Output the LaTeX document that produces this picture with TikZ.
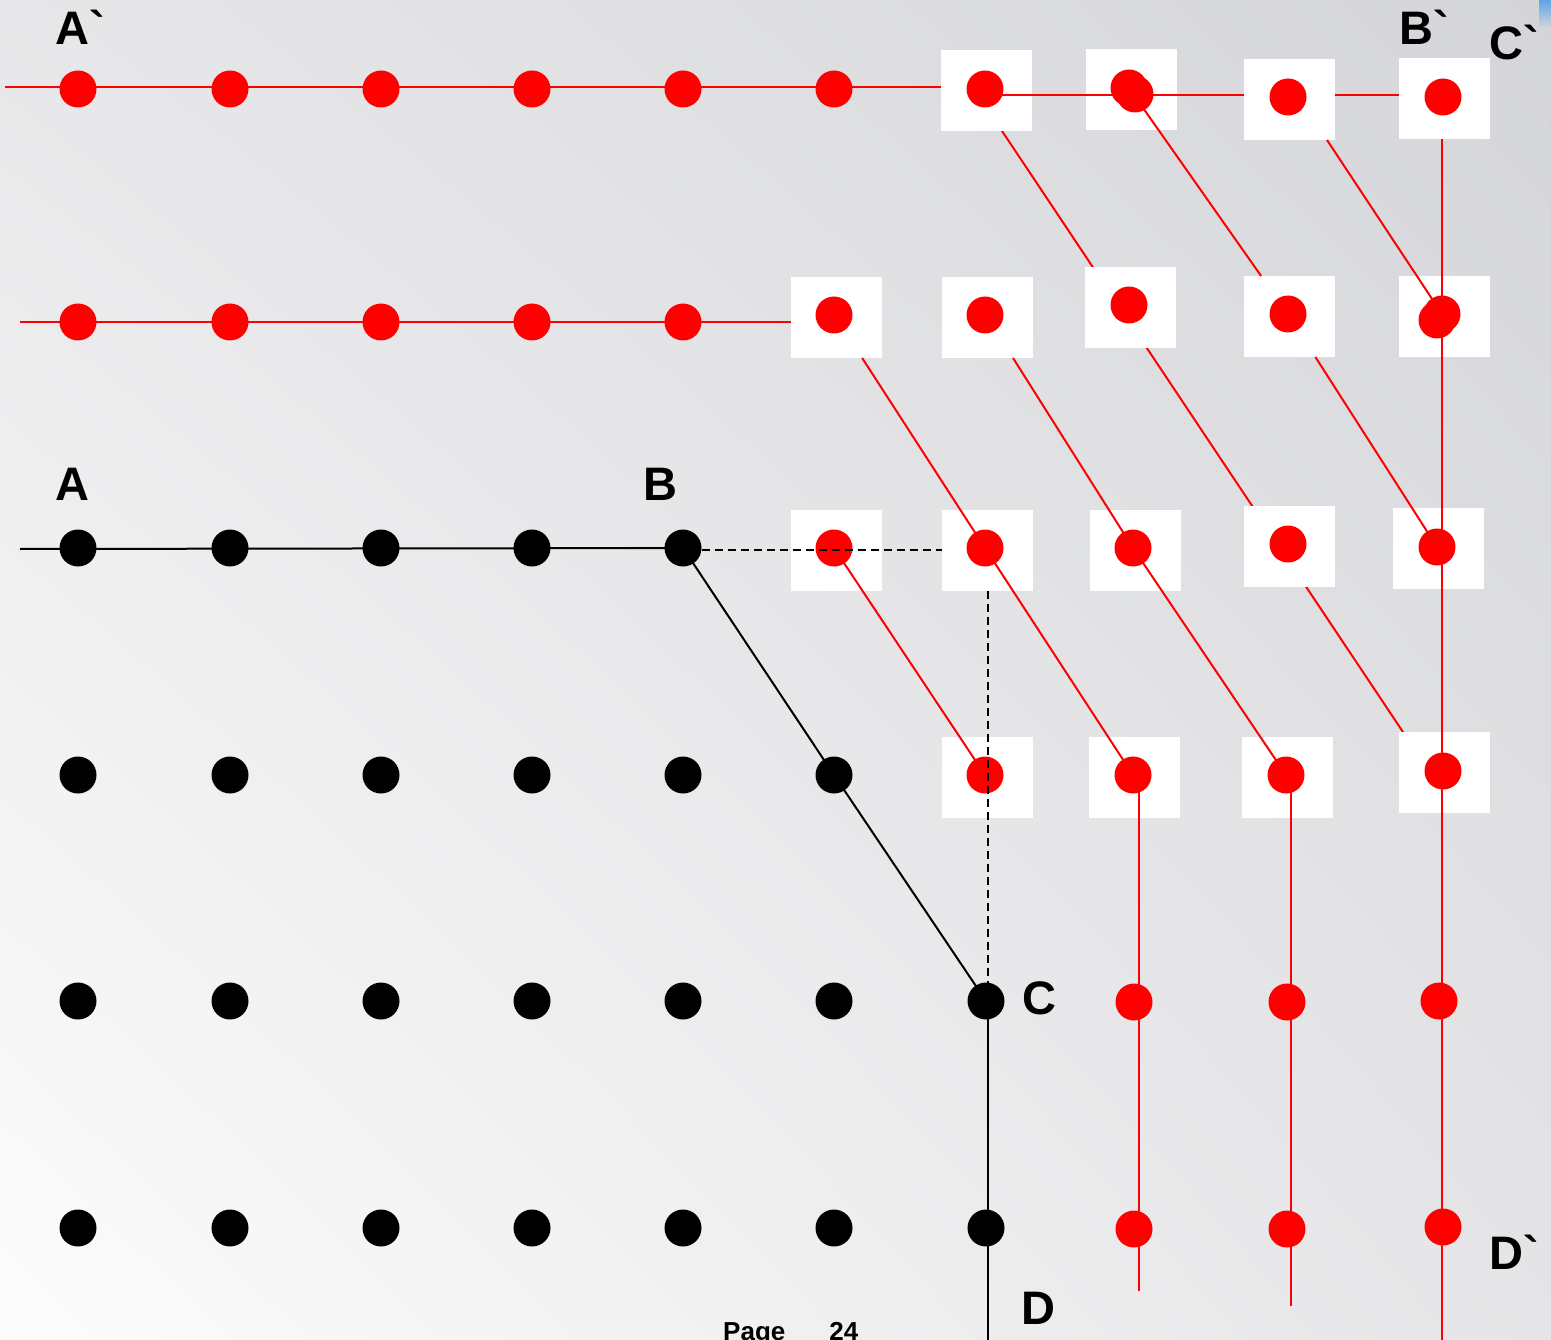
\documentclass[tikz,border=0pt]{standalone}
\usepackage{fontspec}
\usetikzlibrary{shadings}
\setmainfont{Liberation Sans}
\newfontfamily\lblfont{Liberation Sans}[Ligatures=TeXOff]
\pgfdeclarelayer{back}
\pgfdeclarelayer{hidden}
\pgfdeclarelayer{boxes}
\pgfdeclarelayer{dots}
\pgfdeclarelayer{top}
\pgfsetlayers{back,hidden,boxes,main,dots,top}
\definecolor{dred}{RGB}{255,0,0}
\definecolor{bgTL}{RGB}{231,231,233}
\definecolor{bgTR}{RGB}{212,213,217}
\definecolor{bgBL}{RGB}{252,252,252}
\definecolor{bgBR}{RGB}{229,229,231}
\definecolor{artblue}{RGB}{95,165,230}
\tikzset{
  rdot/.style={circle, fill=dred, minimum size=37pt, inner sep=0pt, outer sep=0pt},
  bdot/.style={circle, fill=black, minimum size=37pt, inner sep=0pt, outer sep=0pt},
  wbox/.style={rectangle, fill=white, minimum width=91pt, minimum height=81pt, inner sep=0pt, outer sep=0pt},
  rline/.style={draw=dred, line width=2pt},
  bline/.style={draw=black, line width=2pt},
  dline/.style={draw=black, line width=2pt, dash pattern=on 8pt off 5pt},
  lbl/.style={font={\lblfont\bfseries\fontsize{47}{47}\selectfont}, inner sep=0pt, anchor=base west},
  pagelbl/.style={font={\lblfont\bfseries\fontsize{26}{26}\selectfont}, inner sep=0pt, anchor=base west},
}
\begin{document}
\begin{tikzpicture}[x=1pt,y=-1pt]
\useasboundingbox (0,0) rectangle (1551,1340);

% background
\begin{pgfonlayer}{back}
\shade[upper left=bgTL, upper right=bgTR, lower left=bgBL, lower right=bgBR] (0,0) rectangle (1551,1340);
\shade[top color=artblue, bottom color=bgTR] (1539,0) rectangle (1551,28);
\end{pgfonlayer}

% white boxes
\begin{pgfonlayer}{boxes}
\node[wbox] (b06) at (986.5,90.5) {};
\node[wbox] (b07) at (1131.5,89.5) {};
\node[wbox] (b08) at (1289.5,99.5) {};
\node[wbox] (b09) at (1444.5,99) {};
\node[wbox] (b15) at (836,317.5) {};
\node[wbox] (b16) at (987.5,317.5) {};
\node[wbox] (b17) at (1130.5,307.5) {};
\node[wbox] (b18) at (1289.5,316.5) {};
\node[wbox] (b19) at (1444.5,316.5) {};
\node[wbox] (b25) at (836,550) {};
\node[wbox] (b26) at (987.5,550) {};
\node[wbox] (b27) at (1135,550) {};
\node[wbox] (b28) at (1289.5,546.5) {};
\node[wbox] (b29) at (1438.5,548.5) {};
\node[wbox] (b36) at (987.5,777.5) {};
\node[wbox] (b37) at (1134.5,777.5) {};
\node[wbox] (b38) at (1287.5,777.5) {};
\node[wbox] (b39) at (1444.5,772.5) {};
\end{pgfonlayer}

% dots
\begin{pgfonlayer}{dots}
\foreach \i/\x in {0/78,1/230,2/381,3/532,4/683,5/834}
  \node[rdot] (r0\i) at (\x,89) {};
\node[rdot] (r06) at (985,89) {};
\node[rdot] (r07) at (1129,88) {};
\node[rdot] (r07b) at (1135,94) {};
\node[rdot] (r08) at (1288,97) {};
\node[rdot] (r09) at (1443,97) {};
\foreach \i/\x in {0/78,1/230,2/381,3/532,4/683}
  \node[rdot] (r1\i) at (\x,322) {};
\node[rdot] (r15) at (834,315) {};
\node[rdot] (r16) at (985,315) {};
\node[rdot] (r17) at (1129,305) {};
\node[rdot] (r18) at (1288,314) {};
\node[rdot] (r19) at (1442,314) {};
\node[rdot] (r19b) at (1437,320) {};
\foreach \i/\x in {0/78,1/230,2/381,3/532,4/683}
  \node[bdot] (k2\i) at (\x,548) {};
\node[rdot] (r25) at (834,548) {};
\node[rdot] (r26) at (985,548) {};
\node[rdot] (r27) at (1133,548) {};
\node[rdot] (r28) at (1288,544) {};
\node[rdot] (r29) at (1437,547) {};
\foreach \i/\x in {0/78,1/230,2/381,3/532,4/683,5/834}
  \node[bdot] (k3\i) at (\x,775) {};
\node[rdot] (r36) at (985,775) {};
\node[rdot] (r37) at (1133,775) {};
\node[rdot] (r38) at (1286,775) {};
\node[rdot] (r39) at (1443,771) {};
\foreach \i/\x in {0/78,1/230,2/381,3/532,4/683,5/834,6/986}
  \node[bdot] (k4\i) at (\x,1001) {};
\node[rdot] (r47) at (1134,1002) {};
\node[rdot] (r48) at (1287,1002) {};
\node[rdot] (r49) at (1439,1001) {};
\foreach \i/\x in {0/78,1/230,2/381,3/532,4/683,5/834,6/986}
  \node[bdot] (k5\i) at (\x,1228) {};
\node[rdot] (r57) at (1134,1229) {};
\node[rdot] (r58) at (1287,1229) {};
\node[rdot] (r59) at (1443,1227) {};
\end{pgfonlayer}

% helper coordinates
\coordinate (s0) at (5,87);
\coordinate (s1) at (20,322);
\coordinate (s2) at (20,549);
\coordinate (y95) at (0,95);
\coordinate (y550) at (0,550);
\coordinate (x988) at (988,0);
\coordinate (kd) at (988,1340);
\coordinate (c8) at (1327,140);
\coordinate (v7) at (1139,1291);
\coordinate (v8) at (1291,1306);
\coordinate (v9) at (1442,1340);

% diagonal hidden beneath the white boxes
\begin{pgfonlayer}{hidden}
\draw[rline] ([xshift=-11pt]r06.center) -- ([xshift=-14pt]r39.center);
\end{pgfonlayer}

% red connectors
\draw[rline] (s0) -- (s0 -| b06.west);
\draw[rline] (r06 |- y95) -- (b08.west |- y95);
\draw[rline] (b08.east |- y95) -- (b09.west |- y95);
\draw[rline] (s1) -- (s1 -| b15.west);
\draw[rline] (r07.center) -- (b18);
\draw[rline] (b18) -- (r29.center);
\draw[rline] (c8) -- (r19.center);
\draw[rline] (b15) -- (r26.center) -- (r37.center);
\draw[rline] (b16) -- (r27.center) -- (r38.center);
\draw[rline] (r25.center) -- (r36.center);
\draw[rline] (r37.center -| v7) -- (v7);
\draw[rline] (r38.center -| v8) -- (v8);
\draw[rline] (b09.south -| v9) -- (v9);

% black connectors
\draw[bline] (s2) -- (k24.center);
\draw[bline] (k24.center) -- (k35.center) -- (k46.center);
\draw[bline] (k46.center -| kd) -- (kd);

% dashed guides and labels
\begin{pgfonlayer}{top}
\draw[dline] (k24.east |- y550) -- (b26.west |- y550);
\draw[dline] (b26.south -| x988) -- (k46.north -| x988);
\node[lbl] (lA1) at (55,45) {A\symbol{96}};
\node[lbl] (lB1) at (1399.5,45) {B\symbol{96}};
\node[lbl] (lC1) at (1489.5,60) {C\symbol{96}};
\node[lbl] (lA) at (55,500) {A};
\node[lbl] (lB) at (643.5,500) {B};
\node[lbl] (lC) at (1022.5,1014) {C};
\node[lbl] (lD) at (1021.5,1324) {D};
\node[lbl] (lD1) at (1489.5,1269) {D\symbol{96}};
\node[pagelbl] (pg) at (723,1340) {Page\hspace{44pt}24};
\end{pgfonlayer}
\end{tikzpicture}
\end{document}
